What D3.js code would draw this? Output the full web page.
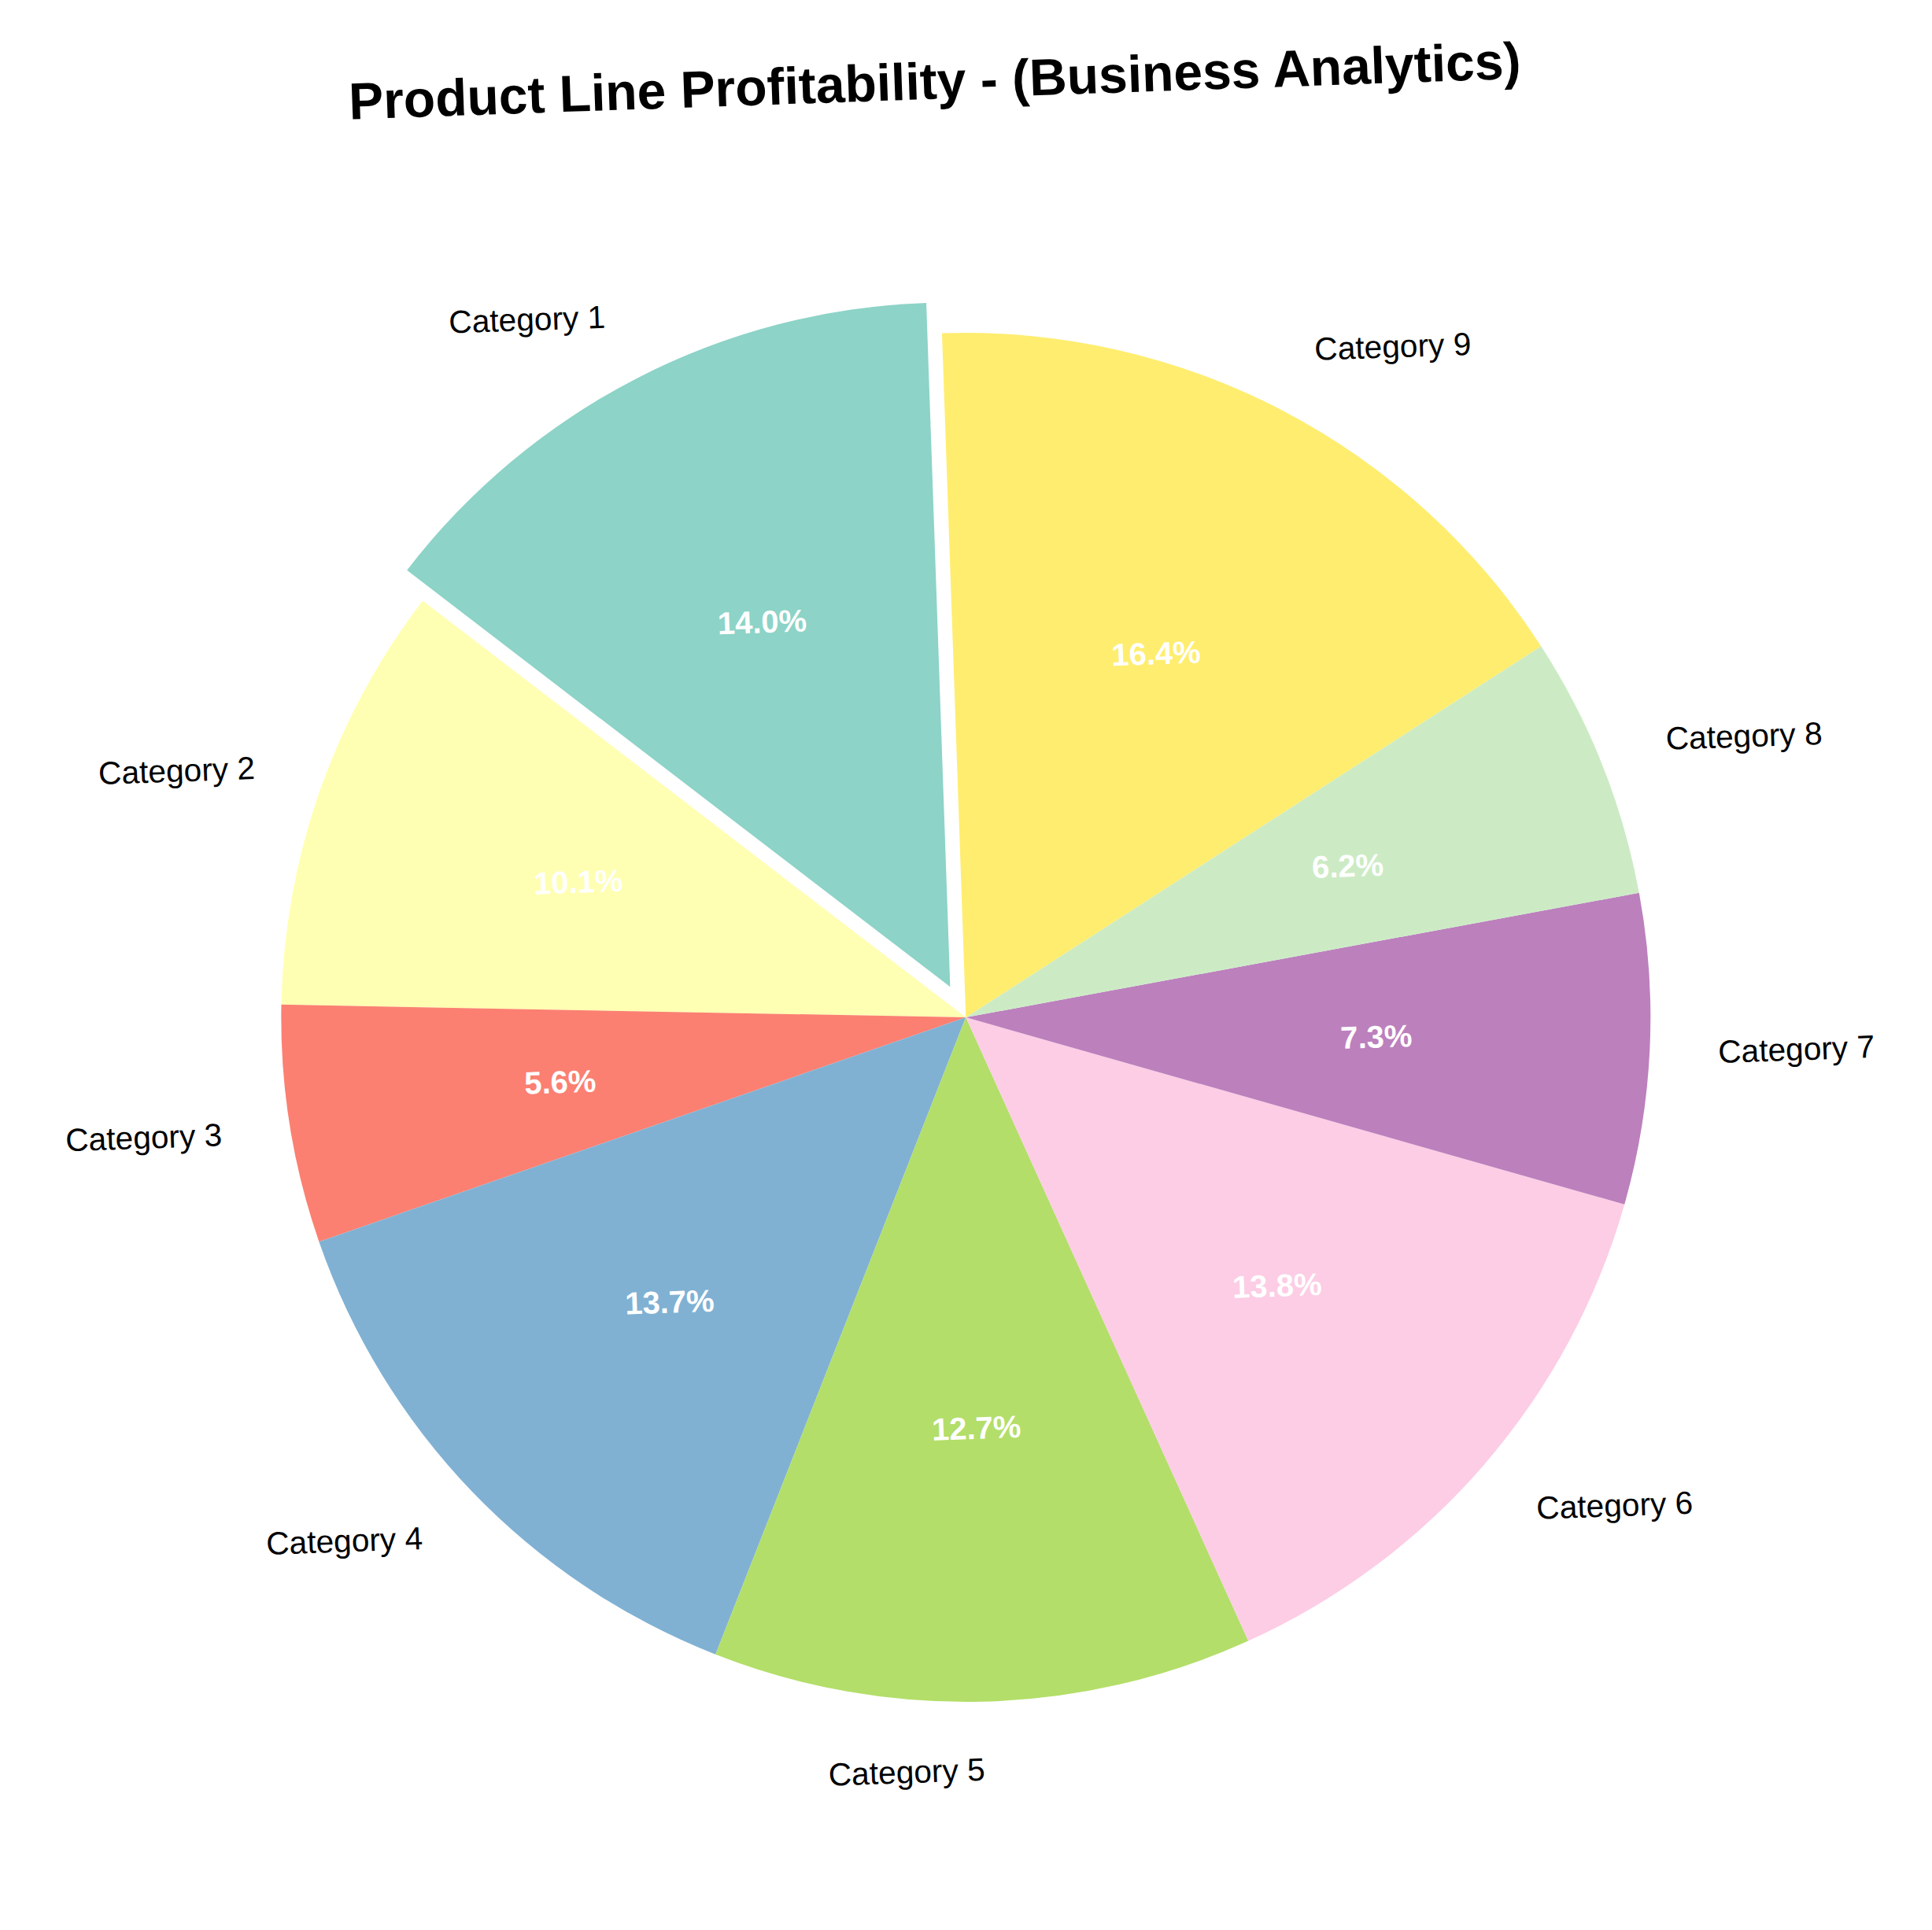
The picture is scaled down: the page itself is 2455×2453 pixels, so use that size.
<!DOCTYPE html>
<html><head><meta charset="utf-8">
<script src="https://cdn.jsdelivr.net/npm/d3@7"></script>
<style>body{margin:0;background:#fff}svg{display:block}</style>
</head><body>
<svg id="chart" width="2455" height="2453"></svg>
<script>
const categories = ["Category 1","Category 2","Category 3","Category 4","Category 5","Category 6","Category 7","Category 8","Category 9"];
const values = [14.0, 10.1, 5.6, 13.7, 12.7, 13.8, 7.3, 6.2, 16.4];
const colors = ["#8dd3c7","#ffffb3","#fb8072","#80b1d3","#b3de69","#fccde5","#bc80bd","#ccebc5","#ffed6f"];
const explode = [0.05, 0, 0, 0, 0, 0, 0, 0, 0];
const titleText = "Product Line Profitability - (Business Analytics)";

const W = 2455, H = 2453;
const cx = 1225, cy = 1293, R = 870;
const svg = d3.select("#chart");
svg.append("rect").attr("width", W).attr("height", H).attr("fill", "#fff");
const root = svg.append("g").attr("transform", `rotate(-2, ${W/2}, ${H/2})`);

root.append("text")
  .attr("x", 1227).attr("y", 125)
  .attr("text-anchor", "middle")
  .attr("font-family", "Liberation Sans, Arial, sans-serif")
  .attr("font-weight", "bold")
  .attr("font-size", 66)
  .attr("fill", "#000")
  .text(titleText);

const total = d3.sum(values);
const pie = d3.pie().sort(null).startAngle(0).endAngle(-2 * Math.PI);
const arcs = pie(values);
const arc = d3.arc().innerRadius(0).outerRadius(R);

const g = root.append("g").attr("transform", `translate(${cx},${cy})`);
const items = g.selectAll("g.slice").data(arcs).enter().append("g").attr("class", "slice")
  .attr("transform", (d, i) => {
    const m = (d.startAngle + d.endAngle) / 2;
    const off = explode[i] * R;
    return `translate(${Math.sin(m) * off},${-Math.cos(m) * off})`;
  });

items.append("path").attr("d", arc).attr("fill", (d, i) => colors[i]);

items.append("text")
  .attr("x", d => Math.sin((d.startAngle + d.endAngle) / 2) * R * 0.6)
  .attr("y", d => -Math.cos((d.startAngle + d.endAngle) / 2) * R * 0.6)
  .attr("dy", "0.35em")
  .attr("text-anchor", "middle")
  .attr("font-family", "Liberation Sans, Arial, sans-serif")
  .attr("font-weight", "bold")
  .attr("font-size", 40)
  .attr("fill", "#fff")
  .text(d => (d.value / total * 100).toFixed(1) + "%");

items.append("text")
  .attr("x", d => Math.sin((d.startAngle + d.endAngle) / 2) * R * 1.1)
  .attr("y", d => -Math.cos((d.startAngle + d.endAngle) / 2) * R * 1.1)
  .attr("dy", "0.32em")
  .attr("text-anchor", (d, i) => {
    const m = (d.startAngle + d.endAngle) / 2;
    const x = Math.sin(m) * R * (1.1 + explode[i]);
    return x > 0 ? "start" : "end";
  })
  .attr("font-family", "Liberation Sans, Arial, sans-serif")
  .attr("font-size", 40.7)
  .attr("fill", "#000")
  .text((d, i) => categories[i]);
</script>
</body></html>
